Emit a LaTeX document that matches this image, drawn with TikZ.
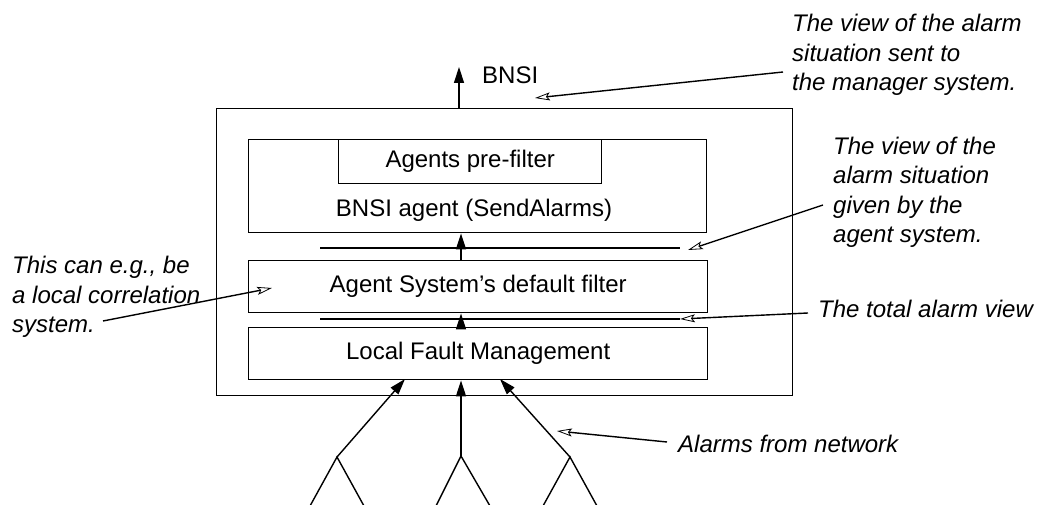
\documentclass[tikz,border=0pt]{standalone}
\usepackage{fontspec}
\setmainfont{Liberation Sans}
\usetikzlibrary{arrows.meta}
\newcommand\labelsize{\fontsize{24}{29.5}\selectfont}
\tikzset{
  box/.style={draw, line width=1.4pt, inner sep=0pt, anchor=north west},
  flow/.style={line width=1.4pt, -{Triangle[length=16pt,width=10pt]}},
  note/.style={font=\labelsize\itshape, align=left, anchor=base west, inner sep=0pt},
  pointer/.style={line width=1.4pt, -{Stealth[open,length=15pt,width=8pt,inset=3pt,line width=0.8pt]}},
  level/.style={line width=1.4pt},
  leg/.style={line width=1.4pt, line join=miter},
}
\begin{document}
\begin{tikzpicture}[x=1pt, y=-1pt, font=\labelsize]
\path[use as bounding box] (0,0) rectangle (1045,505);

% nested boxes of the agent
\node[box, minimum width=576pt, minimum height=287pt] (outer) at (216,108) {};
\node[box, minimum width=458pt, minimum height=93pt] (agent) at (248,139) {};
\node[box, minimum width=263pt, minimum height=44pt] (prefilter) at (338,139) {Agents pre-filter};
\node[inner sep=0pt] (agentlabel) at (474,210) {BNSI agent (SendAlarms)};
\node[box, minimum width=459pt, minimum height=52pt] (default) at (248,260) {Agent System's default filter};
\node[box, minimum width=459pt, minimum height=52pt] (lfm) at (248,327) {Local Fault Management};

% view levels between the boxes
\coordinate (l1a) at (320,248); \coordinate (l1b) at (680,248);
\coordinate (l2a) at (320,319); \coordinate (l2b) at (680,319);
\draw[level] (l1a) -- (l1b);
\draw[level] (l2a) -- (l2b);

% alarm flow upwards
\coordinate (spine) at (461,0);
\coordinate (bnsitip) at (459,67);
\draw[flow] (bnsitip |- outer.north) -- (bnsitip);
\node[anchor=west, inner sep=0pt] (bnsi) at (482,75) {BNSI};
\draw[flow] (spine |- default.north) -- (spine |- agent.south);
\draw[flow] (spine |- lfm.north) -- (spine |- default.south);

% network elements below
\coordinate (apexL) at (337,457);
\coordinate (apexM) at (461,456);
\coordinate (apexR) at (570,457);
\coordinate (footL1) at (310,506); \coordinate (footL2) at (364,506);
\coordinate (footM1) at (436,506); \coordinate (footM2) at (490,506);
\coordinate (footR1) at (543,506); \coordinate (footR2) at (597,506);
\draw[leg] (footL1) -- (apexL) -- (footL2);
\draw[leg] (footM1) -- (apexM) -- (footM2);
\draw[leg] (footR1) -- (apexR) -- (footR2);
\coordinate (inL) at (405,379);
\coordinate (inR) at (500,379);
\draw[flow] (apexL) -- (inL);
\draw[flow] (apexM) -- (spine |- lfm.south);
\draw[flow] (apexR) -- (inR);

% explanatory notes (anchored at the baseline of their last line)
\node[note] (n1) at (792,91) {The view of the alarm\\situation sent to\\the manager system.};
\node[note] (n2) at (833,243) {The view of the\\alarm situation\\given by the\\agent system.};
\node[note] (n3) at (818,317) {The total alarm view};
\node[note] (n4) at (678,452) {Alarms from network};
\node[note] (n5) at (12,333) {This can e.g., be\\a local correlation\\system.};

\coordinate (p1s) at (783,72);  \coordinate (p1e) at (535,98);
\coordinate (p2s) at (823,205); \coordinate (p2e) at (688,250);
\coordinate (p3s) at (808,313); \coordinate (p3e) at (680,319);
\coordinate (p4s) at (667,442); \coordinate (p4e) at (557,431);
\coordinate (p5s) at (103,321); \coordinate (p5e) at (272,288);
\draw[pointer] (p1s) -- (p1e);
\draw[pointer] (p2s) -- (p2e);
\draw[pointer] (p3s) -- (p3e);
\draw[pointer] (p4s) -- (p4e);
\draw[pointer] (p5s) -- (p5e);
\end{tikzpicture}
\end{document}
